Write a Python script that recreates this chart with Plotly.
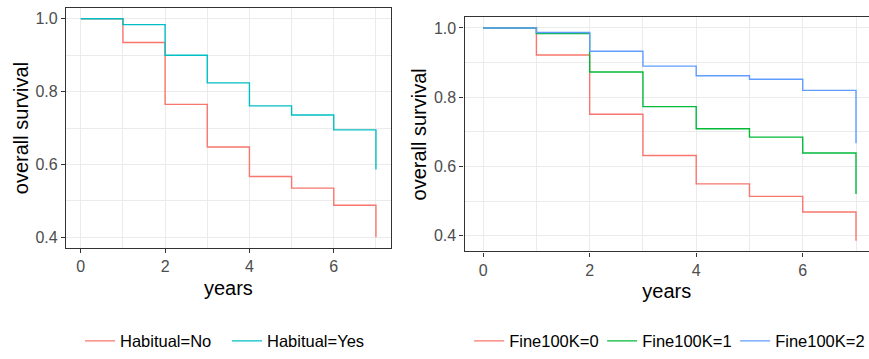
import plotly.graph_objects as go

# ---- data ----
years = [0, 1, 2, 3, 4, 5, 6, 7]

habitual_labels = ["Habitual=No", "Habitual=Yes"]
habitual_no = [1.0, 0.935, 0.765, 0.648, 0.567, 0.535, 0.488, 0.400]
habitual_yes = [1.0, 0.984, 0.900, 0.824, 0.761, 0.736, 0.695, 0.586]

fine_labels = ["Fine100K=0", "Fine100K=1", "Fine100K=2"]
fine_0 = [1.0, 0.922, 0.751, 0.632, 0.550, 0.514, 0.469, 0.386]
fine_1 = [1.0, 0.984, 0.873, 0.773, 0.709, 0.685, 0.639, 0.521]
fine_2 = [1.0, 0.987, 0.933, 0.890, 0.862, 0.852, 0.820, 0.667]

x_ticks = [0, 2, 4, 6]
y_ticks = [0.4, 0.6, 0.8, 1.0]

# ---- style ----
FONT = "Liberation Sans, Arial, sans-serif"
TICK_COLOR = "#4D4D4D"
BORDER = "#333333"
GRID = "#EBEBEB"
W, H = 869, 359

fig = go.Figure()

left_series = [(habitual_no, "#F8766D"), (habitual_yes, "#00BFC4")]
for (vals, col), name in zip(left_series, habitual_labels):
    fig.add_trace(go.Scatter(x=years, y=vals, mode="lines", line=dict(shape="hv", color=col, width=1.4),
                             name=name, xaxis="x", yaxis="y", legend="legend"))

right_series = [(fine_0, "#F8766D"), (fine_1, "#00BA38"), (fine_2, "#619CFF")]
for (vals, col), name in zip(right_series, fine_labels):
    fig.add_trace(go.Scatter(x=years, y=vals, mode="lines", line=dict(shape="hv", color=col, width=1.4),
                             name=name, xaxis="x2", yaxis="y2", legend="legend2"))


def xax(domain, rng, anchor):
    return dict(domain=domain, range=rng, anchor=anchor, tickvals=x_ticks,
                showgrid=True, gridcolor=GRID, gridwidth=1.3,
                minor=dict(dtick=1, tick0=0, showgrid=True, gridcolor=GRID, gridwidth=0.8),
                showline=True, linecolor=BORDER, linewidth=1.2, mirror=True,
                ticks="outside", ticklen=4, tickcolor=BORDER, tickwidth=1,
                tickfont=dict(size=16, color=TICK_COLOR, family=FONT),
                title=dict(text="years", font=dict(size=20, color="black", family=FONT), standoff=6),
                zeroline=False, automargin=False)


def yax(domain, rng, anchor, mirror):
    return dict(domain=domain, range=rng, anchor=anchor, tickvals=y_ticks, tickformat=".1f",
                showgrid=True, gridcolor=GRID, gridwidth=1.3,
                minor=dict(dtick=0.1, tick0=0.4, showgrid=True, gridcolor=GRID, gridwidth=0.8),
                showline=True, linecolor=BORDER, linewidth=1.2, mirror=mirror,
                ticks="outside", ticklen=4, tickcolor=BORDER, tickwidth=1,
                tickfont=dict(size=16, color=TICK_COLOR, family=FONT),
                title=dict(text="overall survival", font=dict(size=20, color="black", family=FONT), standoff=1),
                zeroline=False, automargin=False)


legend_font = dict(size=16.5, color="black", family=FONT)

fig.update_layout(
    width=W, height=H,
    margin=dict(l=0, r=0, t=0, b=0),
    paper_bgcolor="white", plot_bgcolor="white",
    font=dict(family=FONT),
    xaxis=xax([66 / W, 390.7 / W], [-0.35, 7.35], "y"),
    yaxis=yax([1 - 251.7 / H, 1 - 8 / H], [0.37, 1.03], "x", True),
    xaxis2=xax([464.5 / W, 1.0], [-0.35, 7.244], "y2"),
    yaxis2=yax([1 - 255 / H, 1 - 17.5 / H], [0.355, 1.031], "x2", False),
    legend=dict(orientation="h", x=80 / W, xanchor="left", y=1 - 346 / H, yanchor="middle",
                entrywidthmode="pixels", entrywidth=102,
                font=legend_font, bgcolor="rgba(0,0,0,0)"),
    legend2=dict(orientation="h", x=0.999, xanchor="right", y=1 - 346 / H, yanchor="middle",
                 entrywidthmode="pixels", entrywidth=88,
                 font=legend_font, bgcolor="rgba(0,0,0,0)"),
    showlegend=True,
)

fig.write_html("out.html")
